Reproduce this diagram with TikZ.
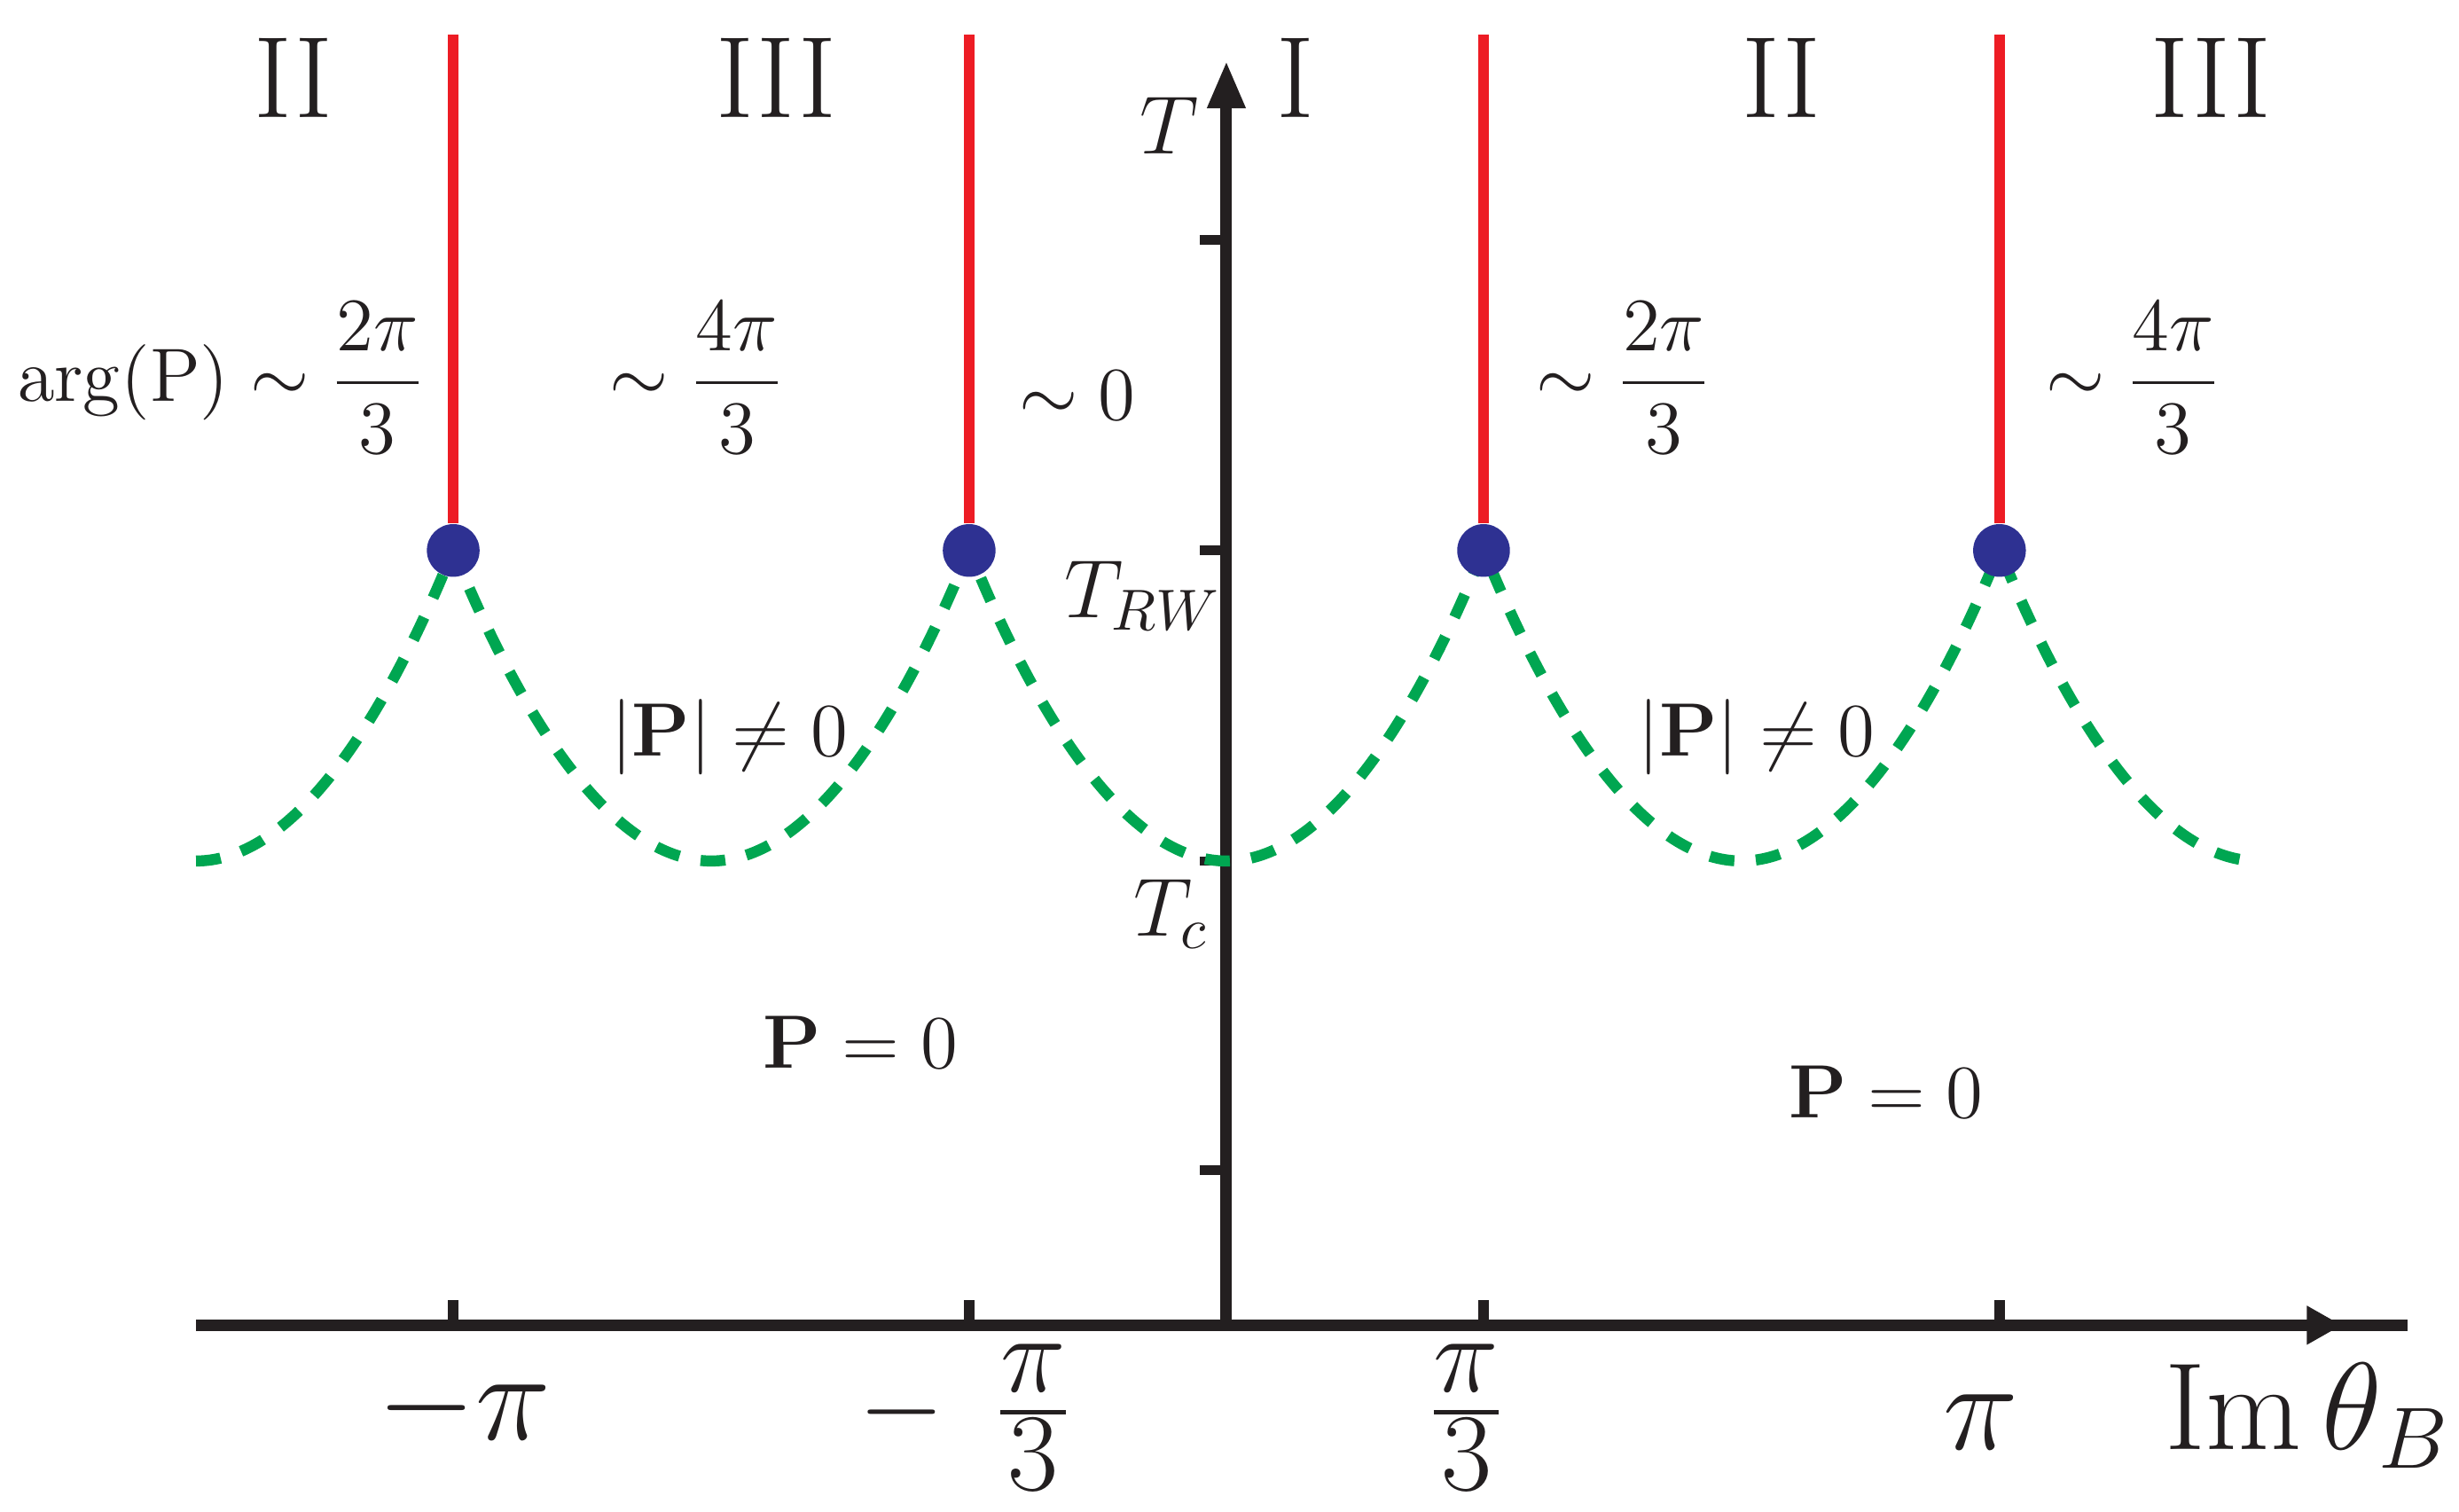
\RequirePackage{fix-cm}
\documentclass[tikz,border=0pt]{standalone}
\usepackage{amsmath}
\definecolor{pgreen}{HTML}{00A651}
\definecolor{pred}{HTML}{ED1C24}
\definecolor{pblue}{HTML}{2E3192}
\definecolor{pblack}{HTML}{231F20}
\newcommand\fsRom{\fontsize{21}{25}\selectfont}
\newcommand\fsAx{\fontsize{23}{27}\selectfont}
\newcommand\fsIm{\fontsize{22.5}{27}\selectfont}
\newcommand\fsFr{\fontsize{20}{24}\selectfont}
\newcommand\fsLab{\fontsize{13.7}{16}\selectfont}
\newcommand\fsTT{\fontsize{15}{18}\selectfont}
\newcommand\tickfrac[2]{\frac{\textstyle #1\rule[-0.12em]{0pt}{0pt}}{\textstyle #2}}
\begin{document}
\begin{tikzpicture}[x=0.01cm,y=-0.01cm,
  axisline/.style={line width=2.1pt, draw=pblack},
  ytick/.style={line width=1.7pt, draw=pblack},
  xtick/.style={line width=2pt, draw=pblack},
  redline/.style={line width=2pt, draw=pred},
  crossover/.style={draw=pgreen, line width=2pt, dash pattern=on 4.5pt off 3.9pt},
  epdot/.style={circle, fill=pblue, inner sep=0pt, minimum size=0.336cm},
  lbl/.style={inner sep=0pt, text=pblack}]
\useasboundingbox (0,0) rectangle (1568,964);

% axes
\coordinate (xs) at (125,845);
\coordinate (xe) at (1535,845);
\coordinate (o) at (782,845);
\coordinate (ye) at (782,50);
\draw[axisline] (xs) -- (xe);
\draw[axisline] (o) -- (ye);
\fill[pblack] (1471,832.5) -- (1493,845) -- (1471,857.5) -- cycle;
\fill[pblack] (769.5,69) -- (782,40) -- (794.5,69) -- cycle;

% ticks
\foreach \yy in {153,351,549,746} \draw[ytick] (765,\yy) -- (782,\yy);
\foreach \xx in {289,618,946,1275} \draw[xtick] (\xx,829) -- (\xx,845);

% crossover curve
\draw[crossover] (125,549) parabola (289,351)
  parabola bend (453.5,549) (618,351)
  parabola bend (782,549) (946,351)
  parabola bend (1110.5,549) (1275,351)
  parabola[bend at end] (1440,549);

% endpoints and first-order lines
\node[epdot] (d1) at (289,351) {};
\node[epdot] (d2) at (618,351) {};
\node[epdot] (d3) at (946,351) {};
\node[epdot] (d4) at (1275,351) {};
\coordinate (t1) at (289,22);
\coordinate (t2) at (618,22);
\coordinate (t3) at (946,22);
\coordinate (t4) at (1275,22);
\draw[redline] (t1) -- (d1);
\draw[redline] (t2) -- (d2);
\draw[redline] (t3) -- (d3);
\draw[redline] (t4) -- (d4);

% roman numerals
\node[lbl, anchor=base, font=\fsRom] (r1) at (187,75) {II};
\node[lbl, anchor=base, font=\fsRom] (r2) at (495,75) {III};
\node[lbl, anchor=base, font=\fsRom] (r3) at (826,75) {I};
\node[lbl, anchor=base, font=\fsRom] (r4) at (1136,75) {II};
\node[lbl, anchor=base, font=\fsRom] (r5) at (1410,75) {III};

% axis labels
\node[lbl, anchor=base west, font=\fsTT] (lT) at (726,98) {$T$};
\node[lbl, anchor=base west, font=\fsTT] (lTrw) at (678,394) {$T_{RW}$};
\node[lbl, anchor=base west, font=\fsTT] (lTc) at (722,597) {$T_c$};

% phase labels
\node[lbl, anchor=base west, font=\fsLab] (a1) at (10.5,256) {$\arg(\mathrm{P}) \sim \dfrac{2\pi}{3}$};
\node[lbl, anchor=base west, font=\fsLab] (a2) at (388,256) {$\sim \dfrac{4\pi}{3}$};
\node[lbl, anchor=base west, font=\fsLab] (a3) at (649,268) {$\sim 0$};
\node[lbl, anchor=base west, font=\fsLab] (a4) at (979,256) {$\sim \dfrac{2\pi}{3}$};
\node[lbl, anchor=base west, font=\fsLab] (a5) at (1304,256) {$\sim \dfrac{4\pi}{3}$};
\node[lbl, anchor=base west, font=\fsLab] (pn1) at (389,482) {$|\mathbf{P}| \neq 0$};
\node[lbl, anchor=base west, font=\fsLab] (pn2) at (1044,482) {$|\mathbf{P}| \neq 0$};
\node[lbl, anchor=base west, font=\fsLab] (pz1) at (486,681) {$\mathbf{P} = 0$};
\node[lbl, anchor=base west, font=\fsLab] (pz2) at (1140,713) {$\mathbf{P} = 0$};

% x tick labels
\node[lbl, anchor=base west, font=\fsAx] (xl1) at (240,918) {$-\pi$};
\node[lbl, anchor=base west, font=\fsFr] (xl2) at (547,918) {$-\;\,\tickfrac{\pi}{3}$};
\node[lbl, anchor=base, font=\fsFr] (xl3) at (935,918) {$\tickfrac{\pi}{3}$};
\node[lbl, anchor=base, font=\fsAx] (xl4) at (1263,924) {$\pi$};
\node[lbl, anchor=base west, font=\fsIm] (xl5) at (1380,924) {$\operatorname{Im}\theta_B$};
\end{tikzpicture}
\end{document}
